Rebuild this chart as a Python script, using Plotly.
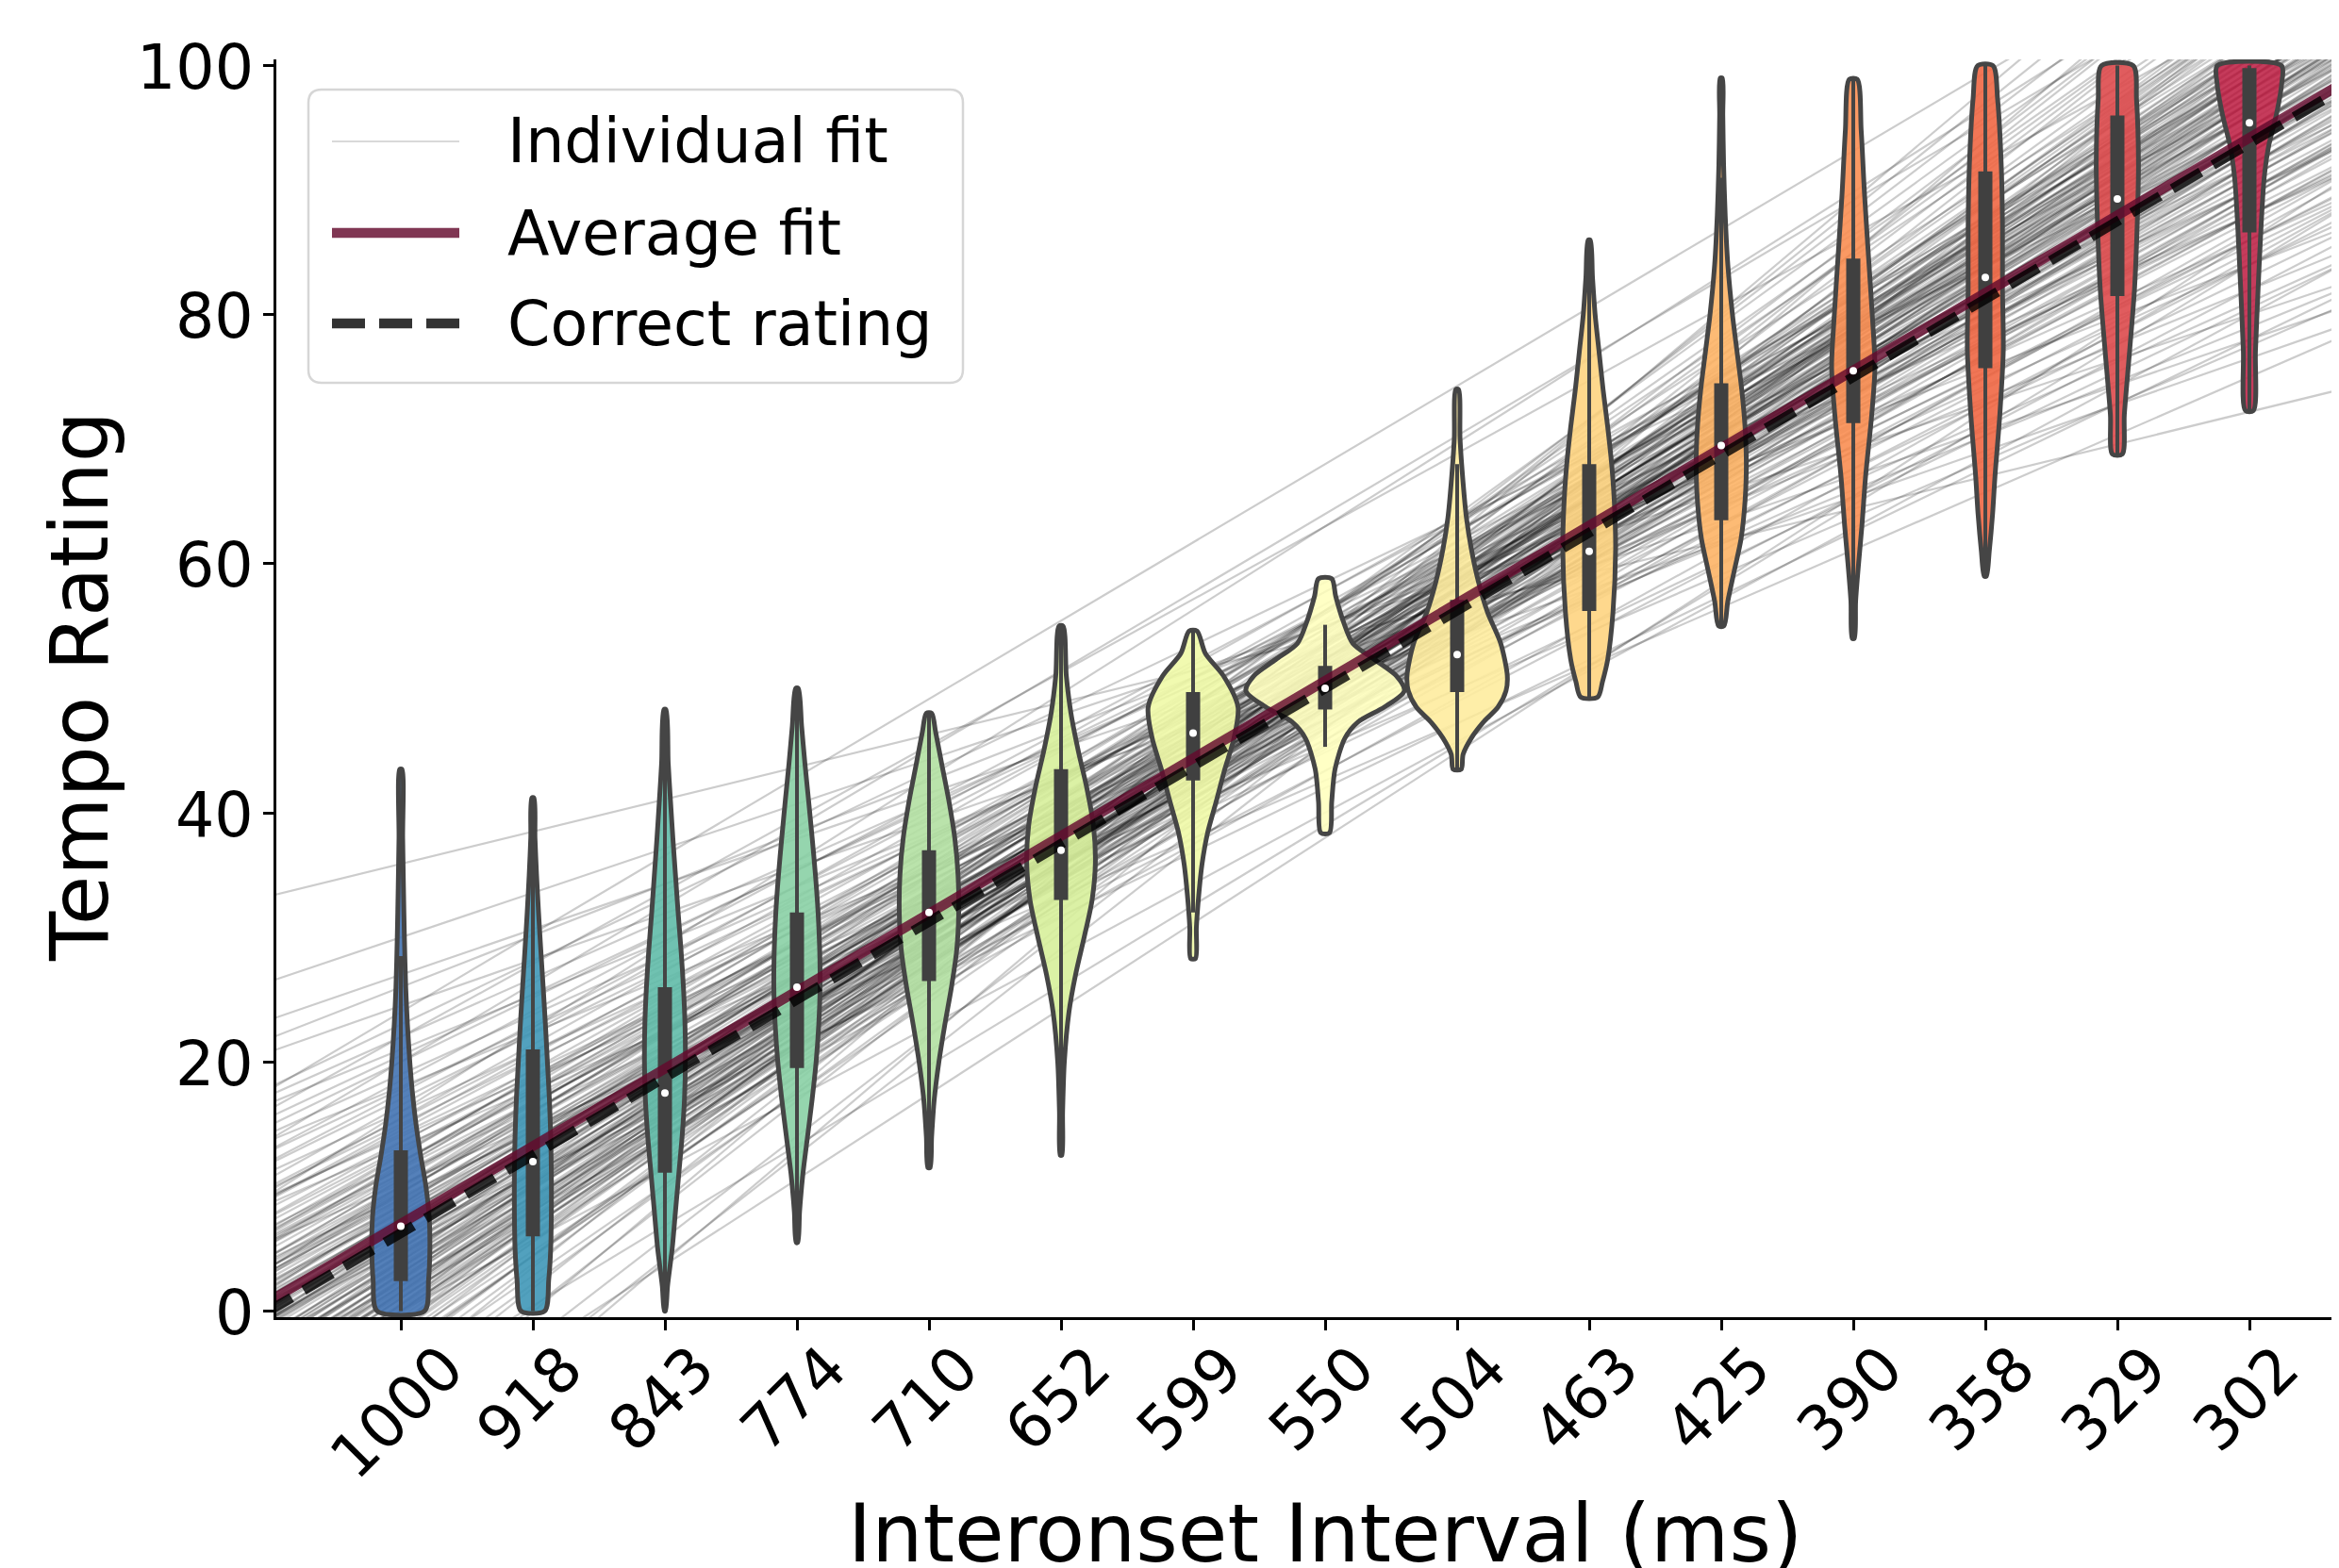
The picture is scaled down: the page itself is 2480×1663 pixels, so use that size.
import plotly.graph_objects as go
import numpy as np

# ---------------- data ----------------
ioi_labels = ["1000", "918", "843", "774", "710", "652", "599", "550",
              "504", "463", "425", "390", "358", "329", "302"]
y_ticks = [0, 20, 40, 60, 80, 100]

violin_colors = ["#4373b3", "#3f97b7", "#60bba8", "#89d0a5", "#b2e0a2",
                 "#d7ef9b", "#eff9a7", "#ffffbf", "#feec9f", "#fed481",
                 "#fdb466", "#f98e52", "#f06744", "#dd4a4c", "#c0274a"]

medians = [6.8, 12.0, 17.5, 26.0, 32.0, 37.0, 46.4, 50.0, 52.7, 61.0, 69.5, 75.5, 83.0, 89.3, 95.4]
q1 = [2.4, 6.0, 11.1, 19.5, 26.5, 33.0, 42.6, 48.3, 49.7, 56.2, 63.5, 71.3, 75.7, 81.5, 86.6]
q3 = [12.9, 21.0, 26.0, 32.0, 37.0, 43.5, 49.7, 51.8, 57.1, 68.0, 74.5, 84.5, 91.5, 96.0, 99.8]
whisk_lo = [0.0, 0.0, 0.0, 5.5, 11.5, 17.3, 32.0, 45.3, 43.5, 49.3, 55.0, 54.0, 59.0, 68.8, 72.3]
whisk_hi = [28.5, 41.2, 48.3, 50.0, 48.0, 55.0, 54.6, 55.1, 68.0, 85.7, 91.0, 98.9, 100.0, 100.0, 100.0]

# violin outlines: rating levels and half-widths (category units)
violin_levels = [
    [0, 2.5, 5, 7.5, 10, 12.5, 15, 17.5, 20, 23, 26, 30, 34, 38, 43.5],
    [0, 2.5, 5, 8, 11, 14, 17, 20, 23, 26, 29, 32, 35, 38, 41.2],
    [0, 2, 5, 8, 11, 14, 17, 20, 23, 26, 29, 32, 35, 38, 41, 44, 48.3],
    [5.5, 8, 11, 14, 17, 20, 23, 26, 29, 32, 35, 38, 41, 44, 47, 50],
    [11.5, 14, 17, 20, 23, 26, 29, 32, 35, 38, 41, 44, 46.5, 48],
    [12.5, 16, 20, 24, 27, 30, 33, 36, 39, 42, 45, 48, 51, 55],
    [28.3, 30.8, 33.4, 35.9, 38.4, 40.9, 43.5, 46.0, 48.5, 51.0, 52.8, 54.6],
    [38.4, 40.9, 43.5, 46.0, 47.3, 48.5, 49.8, 51.0, 52.3, 53.6, 55.3, 57.4, 58.8],
    [43.5, 44.7, 46.0, 47.3, 48.5, 49.8, 51.0, 53.6, 56.1, 58.6, 61.2, 63.7, 66.5, 70, 74],
    [49.3, 50.5, 52.3, 56.1, 61.2, 65, 68, 71, 74, 77, 80, 83, 86],
    [55, 57, 59.5, 62, 65, 68, 71, 74, 77, 80, 84, 88, 92, 96, 99],
    [54, 57, 60, 63, 67, 72, 75.8, 79.6, 84.7, 89.7, 94.8, 98.9],
    [59, 61, 64, 67, 72, 77.1, 82.1, 87.2, 92.2, 97.3, 100],
    [68.8, 72.0, 77.1, 82.1, 87.2, 92.2, 97.3, 100],
    [72.3, 77.1, 82.1, 87.2, 91.0, 93.5, 96.1, 98.6, 100],
]
violin_halfwidths = [
    [0.18, 0.21, 0.22, 0.215, 0.19, 0.15, 0.115, 0.088, 0.068, 0.05, 0.037, 0.027, 0.02, 0.014, 0.008],
    [0.09, 0.12, 0.135, 0.14, 0.14, 0.135, 0.125, 0.11, 0.095, 0.078, 0.06, 0.043, 0.028, 0.016, 0.008],
    [0.004, 0.02, 0.055, 0.08, 0.105, 0.13, 0.148, 0.155, 0.152, 0.14, 0.122, 0.1, 0.08, 0.06, 0.042, 0.025, 0.008],
    [0.006, 0.02, 0.045, 0.08, 0.115, 0.145, 0.165, 0.175, 0.172, 0.16, 0.14, 0.115, 0.088, 0.06, 0.035, 0.01],
    [0.008, 0.02, 0.04, 0.075, 0.12, 0.17, 0.21, 0.225, 0.22, 0.195, 0.15, 0.095, 0.05, 0.02],
    [0.006, 0.012, 0.025, 0.06, 0.11, 0.175, 0.235, 0.26, 0.245, 0.195, 0.13, 0.075, 0.04, 0.015],
    [0.018, 0.025, 0.043, 0.068, 0.11, 0.175, 0.24, 0.31, 0.34, 0.23, 0.093, 0.03],
    [0.033, 0.05, 0.075, 0.15, 0.25, 0.45, 0.6, 0.54, 0.375, 0.21, 0.14, 0.08, 0.05],
    [0.03, 0.045, 0.107, 0.2, 0.31, 0.37, 0.38, 0.33, 0.23, 0.16, 0.107, 0.07, 0.045, 0.022, 0.01],
    [0.065, 0.1, 0.14, 0.18, 0.2, 0.19, 0.17, 0.14, 0.105, 0.075, 0.045, 0.025, 0.008],
    [0.02, 0.05, 0.1, 0.15, 0.18, 0.19, 0.18, 0.155, 0.12, 0.085, 0.05, 0.03, 0.018, 0.012, 0.008],
    [0.008, 0.018, 0.04, 0.065, 0.093, 0.14, 0.164, 0.146, 0.115, 0.085, 0.06, 0.03],
    [0.008, 0.03, 0.055, 0.073, 0.11, 0.136, 0.13, 0.13, 0.12, 0.093, 0.058],
    [0.037, 0.053, 0.093, 0.13, 0.15, 0.16, 0.145, 0.12],
    [0.03, 0.046, 0.066, 0.089, 0.112, 0.145, 0.205, 0.245, 0.243],
]

# individual linear fits: [rating at 1000 ms, rating at 302 ms]
individual_fits = [
    [35.9, 72.2], [30.0, 80.0], [27.0, 78.0], [26.0, 84.0], [24.5, 76.5], [22.0, 88.0],
    [21.0, 82.0], [20.0, 92.0], [19.0, 86.0], [18.0, 79.0], [17.5, 95.0], [17.0, 90.0],
    [16.0, 84.0], [15.5, 98.0], [15.0, 88.0], [14.5, 93.0], [14.0, 81.0], [13.5, 96.0],
    [13.0, 90.0], [12.5, 100.0], [12.0, 86.0], [12.0, 94.0], [11.5, 98.0], [11.0, 91.0],
    [11.0, 83.0], [10.5, 96.0], [10.0, 102.0], [10.0, 89.0], [9.5, 94.0], [9.5, 99.0],
    [9.0, 92.0], [9.0, 86.0], [8.5, 104.0], [8.5, 97.0], [8.0, 95.0], [8.0, 90.0],
    [7.5, 100.0], [7.5, 93.0], [7.0, 96.0], [7.0, 88.0], [6.5, 106.0], [6.5, 98.0],
    [6.0, 94.0], [6.0, 101.0], [5.5, 91.0], [5.5, 97.0], [5.0, 103.0], [5.0, 95.0],
    [4.5, 99.0], [4.5, 92.0], [4.0, 108.0], [4.0, 97.0], [3.5, 101.0], [3.5, 94.0],
    [3.0, 104.0], [3.0, 98.0], [2.5, 96.0], [2.5, 110.0], [2.0, 100.0], [2.0, 93.0],
    [1.5, 105.0], [1.5, 98.0], [1.0, 102.0], [1.0, 95.0], [0.5, 108.0], [0.5, 99.0],
    [0.0, 104.0], [0.0, 97.0], [-0.5, 101.0], [-1.0, 112.0], [-1.0, 99.0], [-1.5, 106.0],
    [-2.0, 103.0], [-2.5, 110.0], [-3.0, 100.0], [-3.5, 108.0], [-4.0, 105.0], [-5.0, 114.0],
    [-5.5, 102.0], [-6.5, 110.0], [-8.0, 108.0], [-9.0, 116.0], [-10.5, 104.0], [-12.4, 103.8],
    [-14.0, 112.0], [6.8, 94.4], [7.2, 91.5], [8.8, 88.0], [5.8, 99.5], [4.2, 101.5],
    [9.8, 97.5], [10.8, 93.5], [3.8, 89.0], [12.8, 92.0], [2.8, 92.0], [6.2, 90.0],
    [14.8, 96.0], [1.8, 96.5], [11.8, 100.5], [16.5, 99.0], [18.5, 97.0], [0.2, 93.5],
    [-2.2, 96.0], [20.5, 90.0], [23.0, 94.0], [-4.5, 98.0], [5.2, 86.5], [7.8, 84.0],
    [3.2, 87.0], [9.2, 80.5], [4.8, 82.0], [1.2, 89.5], [13.2, 77.5], [2.2, 84.5],
    [6.0, 78.0], [10.2, 75.0], [24.0, 112.0], [20.0, 108.0], [16.0, 110.0], [22.0, 104.0],
    [-10.0, 86.0], [-6.0, 84.0], [0.0, 80.0],
    [8.2, 96.5], [6.6, 92.5], [5.4, 98.5], [4.6, 95.5], [3.6, 99.5], [2.6, 102.0],
    [1.6, 100.5], [0.6, 103.5], [-0.2, 98.5], [-1.2, 104.5], [7.6, 97.5], [9.6, 91.0],
    [10.6, 99.0], [11.6, 95.0], [12.6, 97.0], [13.6, 88.5], [8.6, 93.0], [7.4, 89.5],
    [6.4, 102.5], [5.6, 93.5], [4.4, 96.0], [3.4, 97.0], [2.4, 99.0], [1.4, 94.0],
    [0.4, 96.5], [-1.6, 101.0], [-3.2, 104.0], [-2.8, 98.5], [9.4, 101.0], [8.4, 85.0],
    [6.8, 99.0], [5.0, 89.5], [4.0, 93.0], [11.4, 87.5], [15.4, 91.5], [14.2, 85.5],
    [17.8, 88.0], [3.0, 100.5], [2.0, 97.5], [1.0, 99.5], [0.0, 101.5], [-0.8, 95.0],
    [7.0, 100.0], [10.0, 95.0], [12.0, 90.5],
]

average_fit = [7.0, 94.2]      # rating at 1000 ms, at 302 ms
correct_rating = [6.25, 93.75]  # rating at 1000 ms, at 302 ms

# ---------------- layout geometry (screen pixels; page body has an 8px margin) ----------------
OFF = 8
SW, SH = 2480, 1663
W, H = SW - OFF, SH - OFF
S_LEFT, S_TOP, S_BOTTOM = 293, 63, 1397   # plot-area edges on screen
ML, MT, MR = S_LEFT - OFF, S_TOP - OFF, 0
MB = H - (S_BOTTOM - OFF)
PW, PH = W - ML - MR, H - MT - MB
X0 = -(425 - S_LEFT) / 140.0
X1 = X0 + PW / 140.0
Y0, Y1 = -0.5, 100.5
FONT = "DejaVu Sans"
EDGE = "#454545"
n = len(ioi_labels)
last = n - 1


def px(x):
    return (x - OFF - ML) / PW


def py(y):
    return (H - MB - (y - OFF)) / PH


def fit_y(fit, x):
    return fit[0] + (fit[1] - fit[0]) * x / last


def rgba(hexcol, a):
    return "rgba(%d,%d,%d,%s)" % (int(hexcol[1:3], 16), int(hexcol[3:5], 16), int(hexcol[5:7], 16), a)


fig = go.Figure()

# individual fits (drawn first, beneath the violins)
xl = [X0 - 0.1, X1 + 0.1]
for f in individual_fits:
    fig.add_trace(go.Scatter(x=xl, y=[fit_y(f, xl[0]), fit_y(f, xl[1])], mode="lines",
                             line=dict(color="rgba(0,0,0,0.2)", width=2.2),
                             hoverinfo="skip", showlegend=False))

# violins
for i in range(n):
    lv = np.array(violin_levels[i], dtype=float)
    hw = np.array(violin_halfwidths[i], dtype=float)
    xs = np.concatenate([i + hw, (i - hw)[::-1], [i + hw[0]]])
    ys = np.concatenate([lv, lv[::-1], [lv[0]]])
    fig.add_trace(go.Scatter(
        x=xs, y=ys, mode="lines", fill="toself", fillcolor=rgba(violin_colors[i], 0.9),
        line=dict(color=EDGE, width=5, shape="spline", smoothing=0.8),
        hoverinfo="skip", showlegend=False))

# inner boxes
for i in range(n):
    fig.add_trace(go.Scatter(x=[i, i], y=[whisk_lo[i], whisk_hi[i]], mode="lines",
                             line=dict(color=EDGE, width=4), hoverinfo="skip", showlegend=False))
    fig.add_trace(go.Scatter(x=[i, i], y=[q1[i], q3[i]], mode="lines",
                             line=dict(color="#404040", width=15), hoverinfo="skip", showlegend=False))

AVG_COL = "rgba(100,10,45,0.82)"
COR_COL = "rgba(0,0,0,0.8)"
fig.add_trace(go.Scatter(x=xl, y=[fit_y(average_fit, xl[0]), fit_y(average_fit, xl[1])],
                         mode="lines", line=dict(color=AVG_COL, width=10.5),
                         hoverinfo="skip", showlegend=False))
fig.add_trace(go.Scatter(x=xl, y=[fit_y(correct_rating, xl[0]), fit_y(correct_rating, xl[1])],
                         mode="lines", line=dict(color=COR_COL, width=10.5, dash="35px,15px"),
                         hoverinfo="skip", showlegend=False))
fig.add_trace(go.Scatter(x=list(range(n)), y=medians, mode="markers",
                         marker=dict(color="white", size=8, line=dict(width=0)),
                         hoverinfo="skip", showlegend=False))

# ---------------- custom legend ----------------
bx0, by0, bx1, by1, r = 327, 95, 1021, 406, 14
path = (f"M {px(bx0 + r)},{py(by0)} L {px(bx1 - r)},{py(by0)} "
        f"Q {px(bx1)},{py(by0)} {px(bx1)},{py(by0 + r)} L {px(bx1)},{py(by1 - r)} "
        f"Q {px(bx1)},{py(by1)} {px(bx1 - r)},{py(by1)} L {px(bx0 + r)},{py(by1)} "
        f"Q {px(bx0)},{py(by1)} {px(bx0)},{py(by1 - r)} L {px(bx0)},{py(by0 + r)} "
        f"Q {px(bx0)},{py(by0)} {px(bx0 + r)},{py(by0)} Z")
shapes = [dict(type="path", xref="paper", yref="paper", path=path,
               fillcolor="rgba(255,255,255,0.8)", line=dict(color="#d6d6d6", width=2.5))]
legend_items = [("Individual fit", dict(color="rgba(0,0,0,0.15)", width=2.2), 150),
                ("Average fit", dict(color=AVG_COL, width=10.5), 247),
                ("Correct rating", dict(color=COR_COL, width=10.5, dash="35px,15px"), 343)]
annotations = []
for label, ln, yy in legend_items:
    shapes.append(dict(type="line", xref="paper", yref="paper", x0=px(352), x1=px(487),
                       y0=py(yy), y1=py(yy), line=ln))
    annotations.append(dict(text=label, xref="paper", yref="paper", x=px(536), y=py(yy),
                            xanchor="left", yanchor="middle", showarrow=False,
                            font=dict(family=FONT, size=65, color="black")))

# x tick labels (rotated, centred under the ticks)
for i, lab in enumerate(ioi_labels):
    annotations.append(dict(text=lab, xref="x", yref="paper", x=i - 0.03, y=py(1410),
                            xanchor="center", yanchor="top", textangle=-45, showarrow=False,
                            font=dict(family=FONT, size=65, color="black")))

# y tick labels
for v in y_ticks:
    annotations.append(dict(text=str(v), xref="paper", yref="y", x=px(271), y=v, yshift=-2,
                            xanchor="right", yanchor="middle", showarrow=False,
                            font=dict(family=FONT, size=65, color="black")))

# axis titles
annotations.append(dict(text="Interonset Interval (ms)", xref="paper", yref="paper",
                        x=px(1405), y=py(1626), xanchor="center", yanchor="middle",
                        showarrow=False, font=dict(family=FONT, size=85.5, color="black")))
annotations.append(dict(text="Tempo Rating", xref="paper", yref="paper",
                        x=px(84), y=py(728), xanchor="center", yanchor="middle",
                        textangle=-90, showarrow=False,
                        font=dict(family=FONT, size=85.5, color="black")))

fig.update_layout(
    width=W, height=H, margin=dict(l=ML, r=MR, t=MT, b=MB, pad=0),
    paper_bgcolor="white", plot_bgcolor="white", showlegend=False,
    shapes=shapes, annotations=annotations,
    font=dict(family=FONT, size=65, color="black"),
)
fig.update_xaxes(range=[X0, X1], tickmode="array", tickvals=list(range(n)),
                 showticklabels=False, ticks="outside", ticklen=11, tickwidth=2.7,
                 tickcolor="black", showline=True, linewidth=3, linecolor="black",
                 showgrid=False, zeroline=False, mirror=False)
fig.update_yaxes(range=[Y0, Y1], tickmode="array", tickvals=y_ticks,
                 showticklabels=False, ticks="outside", ticklen=11, tickwidth=2.7,
                 tickcolor="black", showline=True, linewidth=3, linecolor="black",
                 showgrid=False, zeroline=False, mirror=False)

fig.write_html("out.html")
